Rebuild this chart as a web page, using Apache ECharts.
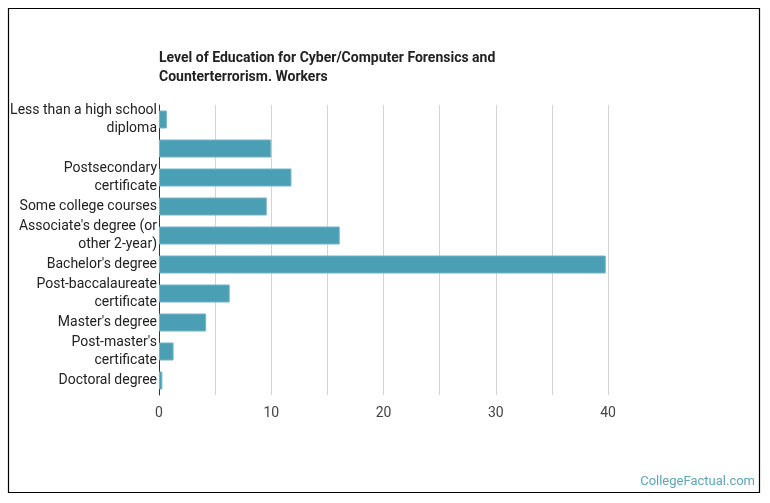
<!DOCTYPE html>
<html>
<head>
<meta charset="utf-8">
<script src="https://cdn.jsdelivr.net/npm/echarts@6/dist/echarts.min.js"></script>
<style>
  html, body { margin: 0; padding: 0; background: #fff; }
  #chart { width: 770px; height: 503px; }
</style>
</head>
<body>
<div id="chart"></div>
<script>
// categories, top to bottom (second one has no label in the source)
var categories = [
    'Less than a high school\ndiploma',
    '',
    'Postsecondary\ncertificate',
    'Some college courses',
    "Associate's degree (or\nother 2-year)",
    "Bachelor's degree",
    'Post-baccalaureate\ncertificate',
    "Master's degree",
    "Post-master's\ncertificate",
    'Doctoral degree'
];
var shares = [0.7, 10.0, 11.8, 9.6, 16.1, 39.8, 6.3, 4.2, 1.3, 0.3];
var xTicks = [0, 10, 20, 30, 40];

var myChart = echarts.init(document.getElementById('chart'));

var option = {
    backgroundColor: '#fff',
    animation: false,
    textStyle: { fontFamily: 'Roboto' },
    title: {
        text: 'Level of Education for Cyber/Computer Forensics and\nCounterterrorism. Workers',
        left: 154,
        top: 44,
        textStyle: {
            fontFamily: 'Roboto',
            fontSize: 14,
            fontWeight: 'bold',
            color: '#222',
            lineHeight: 19
        }
    },
    graphic: [
        {   // outer frame
            type: 'rect',
            shape: { x: 8.5, y: 8.5, width: 751, height: 484 },
            style: { fill: 'none', stroke: '#000', lineWidth: 1.2 },
            silent: true
        },
        {
            type: 'text',
            right: 15,
            bottom: 15,
            style: {
                text: 'CollegeFactual.com',
                fill: '#5aa5b8',
                font: '13px Roboto'
            }
        }
    ],
    grid: {
        left: 159,
        top: 105,
        width: 449,
        height: 290,
        containLabel: false
    },
    xAxis: {
        type: 'value',
        min: 0,
        max: 40,
        interval: 5,
        axisLine: { show: false },
        axisTick: { show: false },
        axisLabel: {
            margin: 11,
            fontSize: 14,
            color: '#444',
            formatter: function (v) {
                return xTicks.indexOf(v) >= 0 ? String(v) : '';
            }
        },
        splitLine: {
            show: true,
            lineStyle: { color: '#d4d4d4', width: 1 }
        }
    },
    yAxis: {
        type: 'category',
        inverse: true,
        data: categories,
        axisLine: {
            show: true,
            lineStyle: { color: '#333', width: 1 }
        },
        axisTick: { show: false },
        axisLabel: {
            margin: 2,
            fontSize: 14,
            lineHeight: 18,
            color: '#222',
            interval: 0
        }
    },
    series: [{
        type: 'bar',
        data: shares,
        barWidth: 18,
        itemStyle: {
            color: '#4a9fb4',
            borderColor: '#73b4c5',
            borderWidth: 1
        }
    }]
};
myChart.setOption(option);
</script>
</body>
</html>
